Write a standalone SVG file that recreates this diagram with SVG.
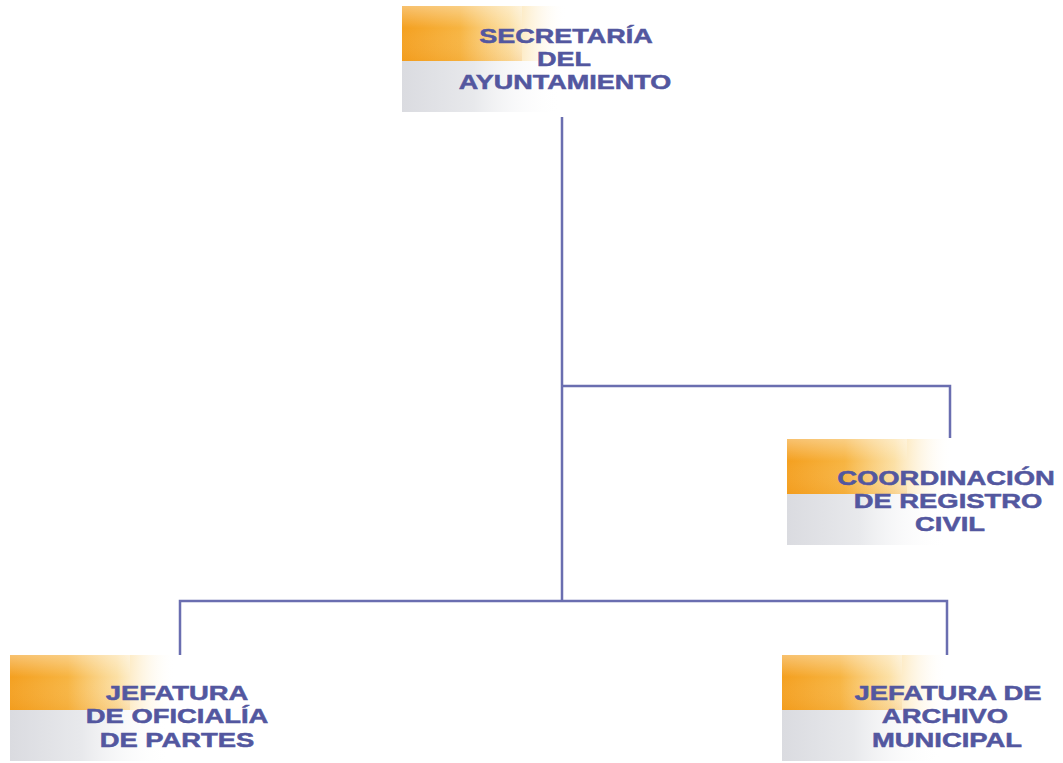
<svg xmlns="http://www.w3.org/2000/svg" width="1063" height="763" viewBox="0 0 1063 763">
  <defs>
    <!-- warm header band of each box, fading out to the right -->
    <linearGradient id="bandWarm" x1="0" y1="0" x2="1" y2="0">
      <stop offset="0" stop-color="#f4a020"/>
      <stop offset="0.35" stop-color="#f7b441"/>
      <stop offset="0.65" stop-color="#fbd88e" stop-opacity="0.8"/>
      <stop offset="1" stop-color="#ffffff" stop-opacity="0"/>
    </linearGradient>
    <!-- soft grey lower band -->
    <linearGradient id="bandGrey" x1="0" y1="0" x2="1" y2="0">
      <stop offset="0" stop-color="#dadbe0"/>
      <stop offset="0.45" stop-color="#e8e9ec"/>
      <stop offset="1" stop-color="#ffffff" stop-opacity="0"/>
    </linearGradient>
    <linearGradient id="bandShade" x1="0" y1="0" x2="0" y2="1">
      <stop offset="0" stop-color="#ffffff" stop-opacity="0.35"/>
      <stop offset="0.4" stop-color="#ffffff" stop-opacity="0"/>
      <stop offset="1" stop-color="#e8880c" stop-opacity="0.15"/>
    </linearGradient>
    <symbol id="box" overflow="visible">
      <rect x="0" y="0" width="165" height="55" fill="url(#bandWarm)"/>
      <rect x="0" y="0" width="120" height="55" fill="url(#bandShade)"/>
      <rect x="0" y="55" width="160" height="51" fill="url(#bandGrey)"/>
    </symbol>
  </defs>
  <style>
    .lbl { font-family: "Liberation Sans", Arial, sans-serif; font-weight: bold; font-size: 20px; fill: #53579f; stroke: #53579f; stroke-width: 0.5; text-anchor: middle; }
    .wire { stroke: #6a6eb0; stroke-width: 2.5; fill: none; }
  </style>

  <rect width="1063" height="763" fill="#ffffff"/>

  <g id="connectors">
    <path class="wire" d="M562 117 V601"/>
    <path class="wire" d="M562 386 H950 V438"/>
    <path class="wire" d="M180 655 V601 H947 V655"/>
  </g>

  <g id="secretaria">
    <use href="#box" x="402" y="6"/>
    <text class="lbl" transform="translate(566 43) scale(1.35 1)">SECRETARÍA</text>
    <text class="lbl" transform="translate(564 66) scale(1.35 1)">DEL</text>
    <text class="lbl" transform="translate(565 89) scale(1.35 1)">AYUNTAMIENTO</text>
  </g>

  <g id="registro-civil">
    <use href="#box" x="787" y="439"/>
    <text class="lbl" transform="translate(946 485) scale(1.37 1)">COORDINACIÓN</text>
    <text class="lbl" transform="translate(948 508) scale(1.37 1)">DE REGISTRO</text>
    <text class="lbl" transform="translate(950 531) scale(1.37 1)">CIVIL</text>
  </g>

  <g id="oficialia-partes">
    <use href="#box" x="10" y="655"/>
    <text class="lbl" transform="translate(177 700) scale(1.37 1)">JEFATURA</text>
    <text class="lbl" transform="translate(177 723) scale(1.37 1)">DE OFICIALÍA</text>
    <text class="lbl" transform="translate(177 747) scale(1.37 1)">DE PARTES</text>
  </g>

  <g id="archivo-municipal">
    <use href="#box" x="782" y="655"/>
    <text class="lbl" transform="translate(948 700) scale(1.37 1)">JEFATURA DE</text>
    <text class="lbl" transform="translate(945 723) scale(1.37 1)">ARCHIVO</text>
    <text class="lbl" transform="translate(947 747) scale(1.37 1)">MUNICIPAL</text>
  </g>
</svg>
